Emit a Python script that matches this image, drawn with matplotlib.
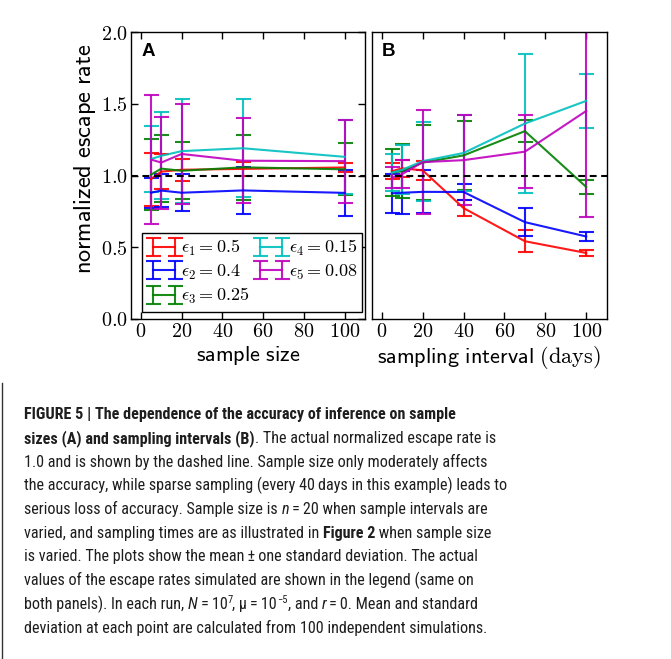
import matplotlib
matplotlib.use('Agg')
import matplotlib.pyplot as plt
from matplotlib.ticker import FixedLocator, FuncFormatter
from matplotlib.lines import Line2D
from matplotlib import font_manager

plt.rcParams['mathtext.fontset'] = 'cm'
plt.rcParams['axes.formatter.use_mathtext'] = True

# ---------------- data ----------------
labels = [r'$\epsilon_1 = 0.5$', r'$\epsilon_2 = 0.4$', r'$\epsilon_3 = 0.25$',
          r'$\epsilon_4 = 0.15$', r'$\epsilon_5 = 0.08$']
colors = ['r', 'b', 'g', 'c', 'm']

sample_size = [5, 10, 20, 50, 100]
a_mean = [
    [0.975, 1.027, 1.040, 1.046, 1.056],   # eps1
    [0.880, 0.895, 0.880, 0.896, 0.879],   # eps2
    [1.006, 1.048, 1.033, 1.057, 1.043],   # eps3
    [1.115, 1.137, 1.170, 1.190, 1.130],   # eps4
    [1.111, 1.090, 1.150, 1.103, 1.100],   # eps5
]
a_std = [
    [0.185, 0.123, 0.075, 0.050, 0.029],
    [0.105, 0.115, 0.127, 0.165, 0.159],
    [0.246, 0.235, 0.197, 0.227, 0.181],
    [0.232, 0.303, 0.364, 0.343, 0.260],
    [0.450, 0.320, 0.346, 0.297, 0.290],
]

interval = [5, 10, 20, 40, 70, 100]
b_mean = [
    [1.030, 1.050, 1.036, 0.773, 0.542, 0.460],
    [0.876, 0.880, 0.886, 0.885, 0.675, 0.575],
    [1.020, 1.030, 1.090, 1.140, 1.309, 0.920],
    [1.020, 1.040, 1.100, 1.157, 1.362, 1.520],
    [0.985, 1.010, 1.093, 1.107, 1.166, 1.450],
]
b_std = [
    [0.055, 0.060, 0.067, 0.057, 0.078, 0.023],
    [0.135, 0.150, 0.150, 0.055, 0.100, 0.030],
    [0.165, 0.190, 0.260, 0.240, 0.078, 0.048],
    [0.130, 0.170, 0.275, 0.263, 0.483, 0.190],
    [0.075, 0.100, 0.363, 0.313, 0.256, 0.740],
]

xticks = [0, 20, 40, 60, 80, 100]
yticks = [0.0, 0.5, 1.0, 1.5, 2.0]

# ---------------- figure ----------------
W, H = 671, 659
fig = plt.figure(figsize=(W / 100, H / 100), dpi=100)
axA = fig.add_axes([130.7 / W, 1 - 319 / H, 234.3 / W, 287 / H])
axB = fig.add_axes([371.5 / W, 1 - 319 / H, 235.2 / W, 287 / H])

ekw = dict(lw=1.5, elinewidth=1.5, capsize=5.4, capthick=1.5, alpha=0.9)
handles = []
for i in range(5):
    h = axA.errorbar(sample_size, a_mean[i], yerr=a_std[i], color=colors[i],
                     label=labels[i], **ekw)
    handles.append(h)
    axB.errorbar(interval, b_mean[i], yerr=b_std[i], color=colors[i], **ekw)

for ax in (axA, axB):
    ax.axhline(1.0, color='k', ls='--', lw=1.5, dashes=(3.3, 2.2), zorder=5)
    ax.set_xlim(-5, 110)
    ax.set_ylim(0, 2.0)
    ax.xaxis.set_major_locator(FixedLocator(xticks))
    ax.yaxis.set_major_locator(FixedLocator(yticks))
    ax.xaxis.set_major_formatter(FuncFormatter(lambda v, p: r'$%d$' % round(v)))
    ax.yaxis.set_major_formatter(FuncFormatter(lambda v, p: r'$%.1f$' % v))
    ax.tick_params(direction='in', top=True, right=True, length=5, width=1,
                   labelsize=14.5, pad=2)
    for s in ax.spines.values():
        s.set_linewidth(1.0)

axB.tick_params(left=False, right=False, labelleft=False)

axA.set_ylabel(r'$\mathsf{normalized\ escape\ rate}$', fontsize=17.5)
axA.yaxis.set_label_coords(-0.138, 0.557)
axA.set_xlabel(r'$\mathsf{sample\ size}$', fontsize=16, labelpad=2)
axB.set_xlabel(r'$\mathsf{sampling\ interval}\ (\mathrm{days})$', fontsize=16, labelpad=2)

for ax, letter in ((axA, 'A'), (axB, 'B')):
    ax.text(0.045, 0.962, letter, transform=ax.transAxes, fontsize=13.5,
            fontweight='bold', family=['Liberation Sans', 'DejaVu Sans'],
            va='top', ha='left')

leg = axA.legend(handles=handles, ncol=2, numpoints=2, loc='lower left',
                 bbox_to_anchor=(0.047, 0.025), borderaxespad=0, fontsize=13,
                 frameon=True, fancybox=False, edgecolor='k', framealpha=1,
                 handlelength=1.85, handletextpad=0.05, columnspacing=0.25,
                 labelspacing=0.25, borderpad=0.3)
leg.get_frame().set_linewidth(1.0)

# ---------------- caption ----------------
entries = font_manager.fontManager.ttflist
names = {f.name for f in entries}
if 'Liberation Sans Narrow' in names:
    cap_family = ['Liberation Sans Narrow', 'DejaVu Sans']
    cap_size = 10.9
elif 'Roboto Condensed' in names:
    cap_family = ['Roboto Condensed', 'DejaVu Sans']
    cap_size = 11.6
else:
    cap_family = ['Liberation Sans', 'DejaVu Sans']
    cap_size = 10.3

renderer = fig.canvas.get_renderer()
txt_color = '#1e1e1e'
TS = '\u2009'


def seg_width(s, **kw):
    t = fig.text(0, 0, '|' + s + '|', **kw)
    w1 = t.get_window_extent(renderer).width
    t.remove()
    t = fig.text(0, 0, '||', **kw)
    w2 = t.get_window_extent(renderer).width
    t.remove()
    return w1 - w2


caption = [
    [('FIGURE 5 | The dependence of the accuracy of inference on sample', 'bold', 'normal', 0)],
    [('sizes (A) and sampling intervals (B)', 'bold', 'normal', 0),
     ('. The actual normalized escape rate is', 'normal', 'normal', 0)],
    [('1.0 and is shown by the dashed line. Sample size only moderately affects', 'normal', 'normal', 0)],
    [('the accuracy, while sparse sampling (every 40' + TS + 'days in this example) leads to', 'normal', 'normal', 0)],
    [('serious loss of accuracy. Sample size is ', 'normal', 'normal', 0),
     ('n', 'normal', 'italic', 0),
     (TS + '=' + TS + '20 when sample intervals are', 'normal', 'normal', 0)],
    [('varied, and sampling times are as illustrated in ', 'normal', 'normal', 0),
     ('Figure 2', 'bold', 'normal', 0),
     (' when sample size', 'normal', 'normal', 0)],
    [('is varied. The plots show the mean' + TS + '\u00b1' + TS + 'one standard deviation. The actual', 'normal', 'normal', 0)],
    [('values of the escape rates simulated are shown in the legend (same on', 'normal', 'normal', 0)],
    [('both panels). In each run, ', 'normal', 'normal', 0),
     ('N', 'normal', 'italic', 0),
     (TS + '=' + TS + '10', 'normal', 'normal', 0),
     ('7', 'normal', 'normal', 1),
     (', \u03bc' + TS + '=' + TS + '10', 'normal', 'normal', 0),
     ('\u22125', 'normal', 'normal', 1),
     (', and ', 'normal', 'normal', 0),
     ('r', 'normal', 'italic', 0),
     (TS + '=' + TS + '0. Mean and standard', 'normal', 'normal', 0)],
    [('deviation at each point are calculated from 100 independent simulations.', 'normal', 'normal', 0)],
]

y0 = 419.3
dy = 23.7
for li, line in enumerate(caption):
    x = 24.0
    yb = y0 + li * dy
    for text, weight, style, sup in line:
        size = cap_size * 0.65 if sup else cap_size
        kw = dict(fontsize=size, fontweight=weight, fontstyle=style,
                  family=cap_family, color=txt_color)
        yy = yb - (6 if sup else 0)
        fig.text(x / W, 1 - yy / H, text, va='baseline', ha='left', **kw)
        x += seg_width(text, **kw)

fig.add_artist(Line2D([1.5 / W, 1.5 / W], [1 - 383 / H, 0], transform=fig.transFigure,
                      color='#333333', lw=1.0))

fig.savefig('out.png', dpi=100)
